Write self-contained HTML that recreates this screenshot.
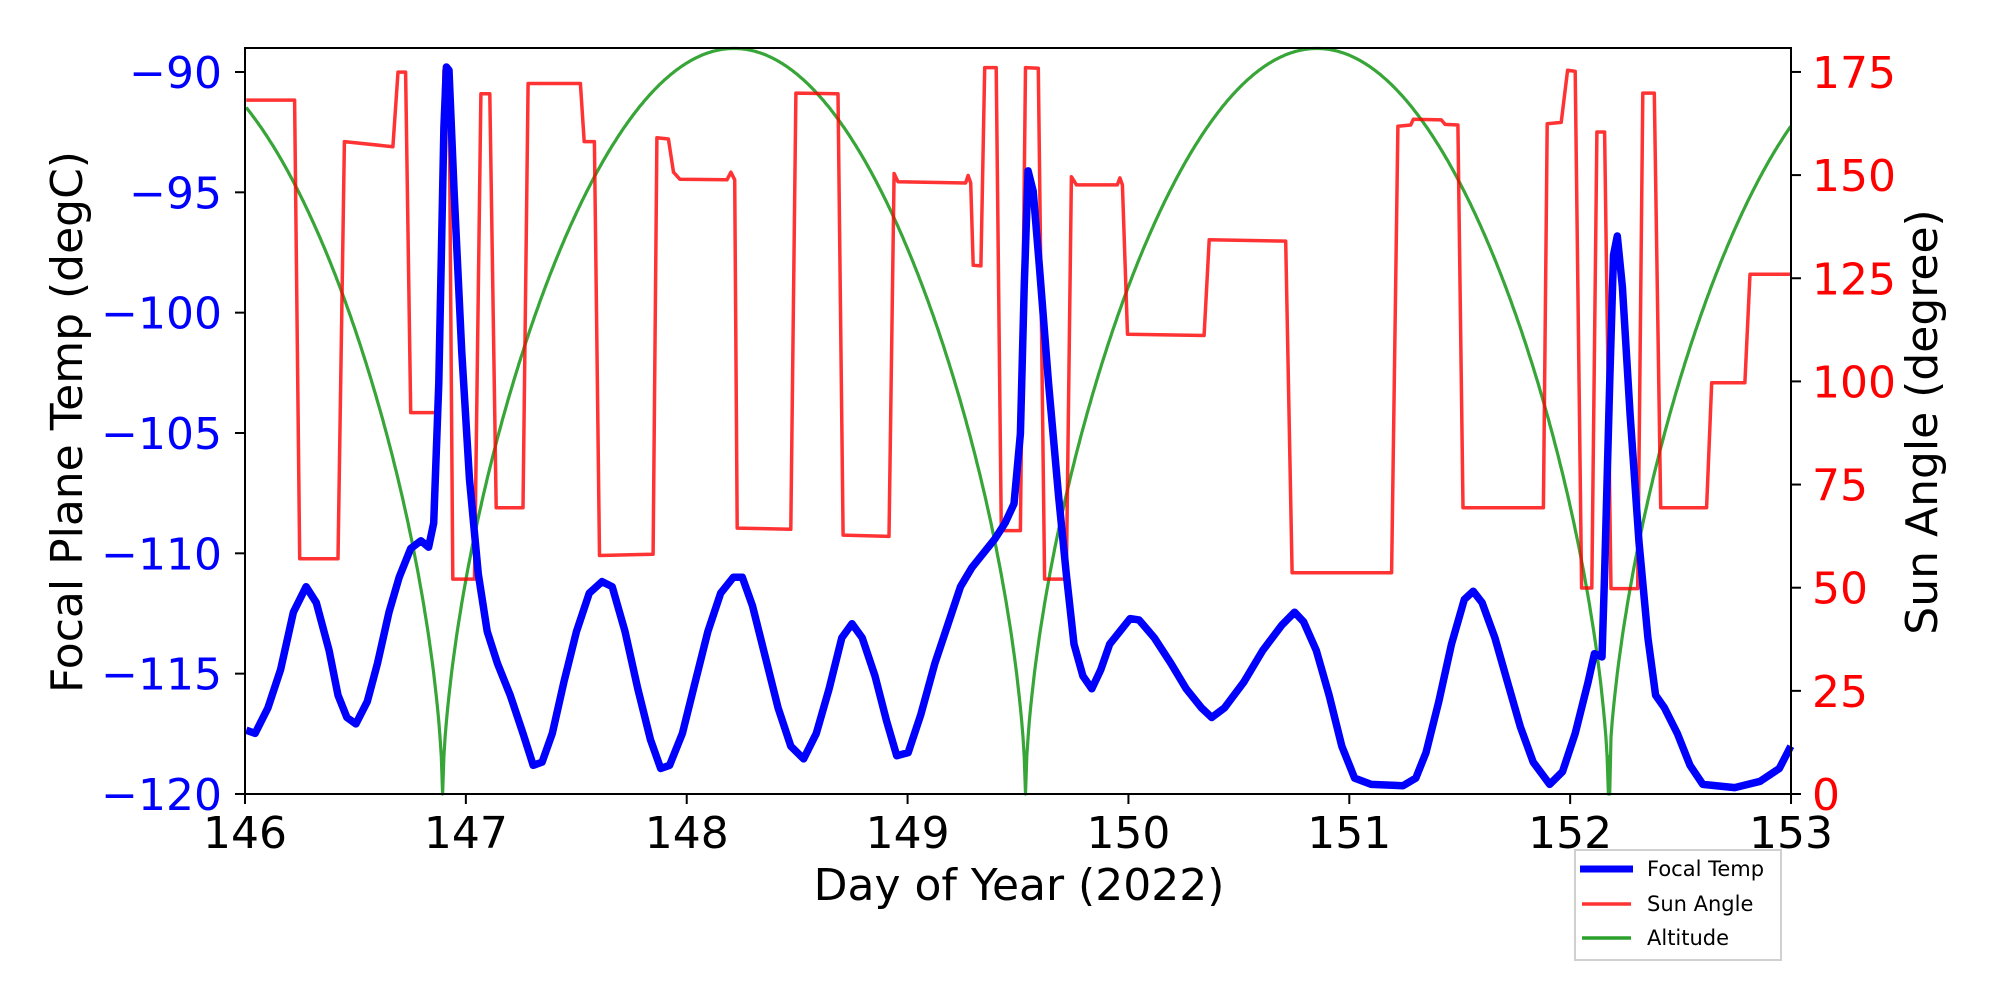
<!DOCTYPE html>
<html><head><meta charset="utf-8"><style>
html,body{margin:0;padding:0;background:#fff}
svg{display:block}
text{font-family:"DejaVu Sans","Liberation Sans",sans-serif}
</style></head><body>
<svg id="s" width="2000" height="1000" xmlns="http://www.w3.org/2000/svg">
<g id="plot"></g>
<rect x="245" y="48" width="1546" height="746" fill="none" stroke="#000" stroke-width="2"/>
<g id="ticks" stroke="#000" stroke-width="2"></g>
<g id="labels" font-size="44"></g>
<text x="70" y="422" font-size="44" text-anchor="middle" dominant-baseline="middle" transform="rotate(-90 70 422)">Focal Plane Temp (degC)</text>
<text x="1925" y="422" font-size="44" text-anchor="middle" dominant-baseline="middle" transform="rotate(-90 1925 422)">Sun Angle (degree)</text>
<text x="1019" y="900" font-size="44" text-anchor="middle">Day of Year (2022)</text>
<rect x="1575" y="850" width="206" height="110" fill="#fff" stroke="#d0d0d0" stroke-width="2"/>
<line x1="1580" y1="869" x2="1633" y2="869" stroke="#0000ff" stroke-width="7"/>
<line x1="1582" y1="904" x2="1631" y2="904" stroke="#ff3333" stroke-width="3.5"/>
<line x1="1582" y1="938" x2="1631" y2="938" stroke="#2ca02c" stroke-width="3.5"/>
<text x="1647" y="876" font-size="21">Focal Temp</text>
<text x="1647" y="911" font-size="21">Sun Angle</text>
<text x="1647" y="945" font-size="21">Altitude</text>
</svg>
<script>
var NS="http://www.w3.org/2000/svg";
function T(x,y){return [(x*1.2755).toFixed(1),(y/1.568).toFixed(1)];}
function poly(pts,color,w,op){var p=document.createElementNS(NS,"polyline");
 p.setAttribute("points",pts.map(function(q){return T(q[0],q[1]).join(",")}).join(" "));
 p.setAttribute("fill","none");p.setAttribute("stroke",color);p.setAttribute("stroke-width",w);
 p.setAttribute("stroke-linejoin","round");if(op)p.setAttribute("stroke-opacity",op);
 document.getElementById("plot").appendChild(p);}
var g=[];for(var x=193;x<=1404;x+=1){var u=((x-347)%457+457)%457/457;var f=Math.pow(Math.abs(Math.sin(Math.PI*u)),0.6);g.push([x,1245-1169*f]);}
[347,804,1262].forEach(function(z){g.push([z,1245]);});g.sort(function(a,b){return a[0]-b[0]});
poly(g,"#2ca02c",3.2,0.95);
var r=[[193,157],[231,157],[235,876],[265,876],[270,222],[308,230],[312,113],[318,113],[322,647],[344,647],[348,110],[352,110],[355,908],[372,908],[377,147],[384,147],[389,796],[410,796],[414,131],[455,131],[458,222],[466,222],[470,871],[512,869],[515,216],[524,218],[528,270],[533,281],[570,282],[573,270],[576,282],[578,828],[620,830],[624,146],[657,147],[661,839],[697,841],[701,272],[704,285],[757,287],[759,275],[761,287],[763,416],[769,417],[772,106],[781,106],[785,832],[800,832],[804,106],[814,107],[819,908],[836,908],[840,277],[844,290],[876,290],[878,279],[880,290],[884,524],[944,526],[948,376],[1008,378],[1013,898],[1091,898],[1096,198],[1106,196],[1108,187],[1130,188],[1133,195],[1143,196],[1147,796],[1210,796],[1213,194],[1224,192],[1229,110],[1235,112],[1240,922],[1248,922],[1252,207],[1258,207],[1263,923],[1284,923],[1288,146],[1297,146],[1302,796],[1338,796],[1342,600],[1368,600],[1372,430],[1404,430]];
poly(r,"#ff0000",3.5,0.8);
var b=[[193,1145],[200,1150],[210,1110],[220,1050],[230,960],[240,920],[248,945],[258,1020],[265,1090],[272,1125],[279,1135],[288,1100],[296,1040],[305,960],[313,905],[322,860],[330,848],[336,858],[340,820],[344,600],[348,200],[350,105],[352,110],[356,300],[362,550],[368,750],[375,900],[382,990],[390,1040],[400,1090],[410,1150],[418,1200],[425,1195],[433,1150],[442,1070],[452,990],[462,930],[472,912],[480,920],[490,990],[500,1080],[510,1160],[518,1205],[525,1200],[535,1150],[545,1070],[555,990],[565,930],[575,905],[582,905],[590,950],[600,1030],[610,1110],[620,1170],[630,1190],[640,1150],[650,1080],[660,1000],[668,978],[676,1000],[686,1060],[695,1130],[703,1185],[712,1180],[722,1120],[733,1040],[743,980],[753,920],[762,890],[770,870],[780,845],[788,820],[795,790],[800,680],[803,450],[806,268],[810,300],[815,420],[822,600],[830,780],[836,900],[842,1010],[849,1060],[856,1080],[863,1050],[870,1010],[878,990],[886,970],[893,972],[905,1000],[918,1040],[930,1080],[942,1110],[950,1125],[960,1110],[975,1070],[990,1020],[1005,980],[1015,960],[1022,975],[1032,1020],[1042,1090],[1052,1170],[1062,1220],[1075,1230],[1100,1232],[1110,1220],[1118,1180],[1128,1100],[1138,1010],[1148,940],[1155,927],[1162,945],[1172,1000],[1182,1070],[1192,1140],[1202,1195],[1215,1230],[1225,1210],[1235,1150],[1245,1070],[1250,1025],[1256,1030],[1258,900],[1262,600],[1265,400],[1268,370],[1272,450],[1278,650],[1285,850],[1292,1000],[1298,1090],[1305,1110],[1315,1150],[1325,1200],[1335,1230],[1360,1235],[1380,1225],[1395,1205],[1404,1170]];
poly(b,"#0000ff",7.5);
var tk=document.getElementById("ticks"),lb=document.getElementById("labels");
function L(x1,y1,x2,y2){var l=document.createElementNS(NS,"line");l.setAttribute("x1",x1);l.setAttribute("y1",y1);l.setAttribute("x2",x2);l.setAttribute("y2",y2);tk.appendChild(l);}
function X(x,y,s,c,a){var t=document.createElementNS(NS,"text");t.setAttribute("x",x);t.setAttribute("y",y);t.setAttribute("fill",c);t.setAttribute("text-anchor",a);t.textContent=s;lb.appendChild(t);}
for(var d=0;d<=7;d++){var x=245+d*220.86;L(x,794,x,804);X(x,848,String(146+d),"#000","middle");}
for(var i=0;i<=6;i++){var y=72+i*120.33;L(235,y,245,y);X(222,y+16,"\u2212"+(90+5*i),"#0000ff","end");}
for(var i=0;i<=7;i++){var v=25*i,y=794-v*4.126;L(1791,y,1801,y);X(1812,y+16,String(v),"#ff0000","start");}
</script>
</body></html>
